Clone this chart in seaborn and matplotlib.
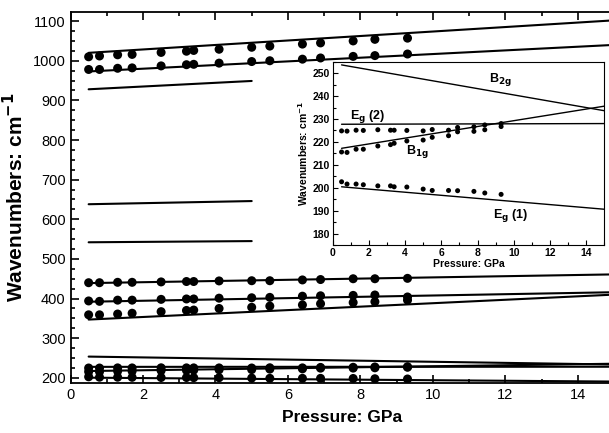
import numpy as np
import pandas as pd
import matplotlib
matplotlib.use("Agg")
import matplotlib.pyplot as plt
from matplotlib.ticker import MultipleLocator
import seaborn as sns

# pressure points (GPa)
pressure = [0.5, 0.8, 1.3, 1.7, 2.5, 3.2, 3.4, 4.1, 5.0, 5.5, 6.4, 6.9, 7.8, 8.4, 9.3]

# high-frequency and mid bands (main panel only)
band_1010 = [1010, 1012, 1015, 1016, 1021, 1024, 1026, 1029, 1034, 1037, 1042, 1045, 1050, 1054, 1057]
band_978 = [978, 978, 981, 982, 987, 990, 991, 994, 998, 1000, 1004, 1007, 1011, 1013, 1017]
band_440 = [440, 440, 441, 441, 442, 443, 443, 444.5, 445, 445, 447, 448, 450, 450, 451]
band_395 = [394, 393, 396, 396, 398, 399, 399, 401, 402, 403, 406, 407, 408, 409, 404]
band_360 = [359, 359, 361, 363, 367, 370, 371, 375, 378, 381, 384, 387, 390, 392, 396]

# low-frequency modes (main + inset)
eg2 = [224.8, 224.7, 225.1, 225.0, 225.3, 225.1, 225.1, 225.0, 224.8, 225.4, 225.1, 226.3, 226.6, 227.4, 228.0]
b1g = [215.6, 215.4, 216.8, 216.8, 218.2, 218.8, 219.4, 220.4, 220.8, 222.0, 222.7, 224.4, 224.6, 225.3, 226.7]
eg1 = [202.6, 201.6, 201.6, 201.3, 200.8, 200.8, 200.4, 200.3, 199.4, 198.8, 198.8, 198.7, 198.4, 197.7, 197.1]

# calculated lines: start / end wavenumbers
long_range = [0.5, 15.0]
long_start = [1020, 973, 439, 392, 347, 253.6, 227.7, 217.2, 200.4]
long_end = [1102, 1040, 461, 416, 410, 233.6, 228.0, 235.6, 190.6]
short_range = [0.5, 5.0]
short_start = [928, 638, 542]
short_end = [949, 646, 545]
inset_lines = {"B2g": (253.6, 233.6), "Eg2": (227.7, 228.0), "B1g": (217.2, 235.6), "Eg1": (200.4, 190.6)}

sns.set_style("ticks", {'axes.edgecolor': 'black', 'text.color': 'black',
                        'xtick.color': 'black', 'ytick.color': 'black',
                        'axes.labelcolor': 'black'})
plt.rcParams['font.family'] = ['Liberation Sans', 'DejaVu Sans']

points = pd.DataFrame({
    'P': pressure * 8,
    'w': band_1010 + band_978 + band_440 + band_395 + band_360 + eg2 + b1g + eg1,
})
lines = []
for i, (a, b) in enumerate(zip(long_start, long_end)):
    lines.append(pd.DataFrame({'P': long_range, 'w': [a, b], 'id': f'L{i}'}))
for i, (a, b) in enumerate(zip(short_start, short_end)):
    lines.append(pd.DataFrame({'P': short_range, 'w': [a, b], 'id': f'S{i}'}))
lines = pd.concat(lines, ignore_index=True)

fig = plt.figure(figsize=(6.09, 4.33), dpi=100)
ax = fig.add_axes([0.1158, 0.1155, 0.8925, 0.8568])

sns.lineplot(data=lines, x='P', y='w', units='id', estimator=None, color='black',
             lw=1.5, ax=ax, legend=False)
sns.scatterplot(data=points, x='P', y='w', color='black', s=42, edgecolor='none', ax=ax, zorder=3)

ax.set_xlim(0, 15)
ax.set_ylim(187, 1123)
ax.xaxis.set_major_locator(MultipleLocator(2))
ax.xaxis.set_minor_locator(MultipleLocator(1))
ax.yaxis.set_major_locator(MultipleLocator(100))
ax.yaxis.set_minor_locator(MultipleLocator(25))
ax.tick_params(which='both', direction='in', top=True, labelsize=10.5, width=1.2)
ax.tick_params(which='major', length=6)
ax.tick_params(which='minor', length=3)
for s in ax.spines.values():
    s.set_linewidth(1.3)
ax.set_xlabel('Pressure: GPa', fontsize=12.5, fontweight='bold', labelpad=6)
ax.set_ylabel('Wavenumbers: cm$^{\\mathbf{-1}}$', fontsize=15, fontweight='bold', labelpad=4)

# inset
ins = fig.add_axes([0.546, 0.4342, 0.4465, 0.4233])
ins.set_facecolor('white')
inset_pts = pd.DataFrame({'P': pressure * 3, 'w': eg2 + b1g + eg1})
ins_lines = pd.concat([pd.DataFrame({'P': long_range, 'w': list(v), 'id': k})
                       for k, v in inset_lines.items()], ignore_index=True)
sns.lineplot(data=ins_lines, x='P', y='w', units='id', estimator=None, color='black',
             lw=1.0, ax=ins, legend=False)
sns.scatterplot(data=inset_pts, x='P', y='w', color='black', s=13, edgecolor='none', ax=ins, zorder=3)
ins.set_xlim(0, 15)
ins.set_ylim(175, 255)
ins.xaxis.set_major_locator(MultipleLocator(2))
ins.xaxis.set_minor_locator(MultipleLocator(1))
ins.yaxis.set_major_locator(MultipleLocator(10))
ins.yaxis.set_minor_locator(MultipleLocator(5))
ins.tick_params(which='both', direction='in', labelsize=7.5, width=0.8, pad=2)
ins.tick_params(which='major', length=3.5)
ins.tick_params(which='minor', length=2)
for lab in ins.get_xticklabels() + ins.get_yticklabels():
    lab.set_fontweight('bold')
ins.set_xlabel('Pressure: GPa', fontsize=7.5, fontweight='bold', labelpad=1)
ins.set_ylabel('Wavenumbers: cm$^{\\mathbf{-1}}$', fontsize=7.5, fontweight='bold', labelpad=2)
kw = dict(fontsize=9, fontweight='bold', ha='center', va='center')
ins.text(9.25, 247.3, 'B$_{\\mathbf{2g}}$', **kw)
ins.text(1.95, 231.3, 'E$_{\\mathbf{g}}$ (2)', **kw)
ins.text(4.7, 215.8, 'B$_{\\mathbf{1g}}$', **kw)
ins.text(9.8, 188.0, 'E$_{\\mathbf{g}}$ (1)', **kw)

fig.savefig('out.png', dpi=100)
